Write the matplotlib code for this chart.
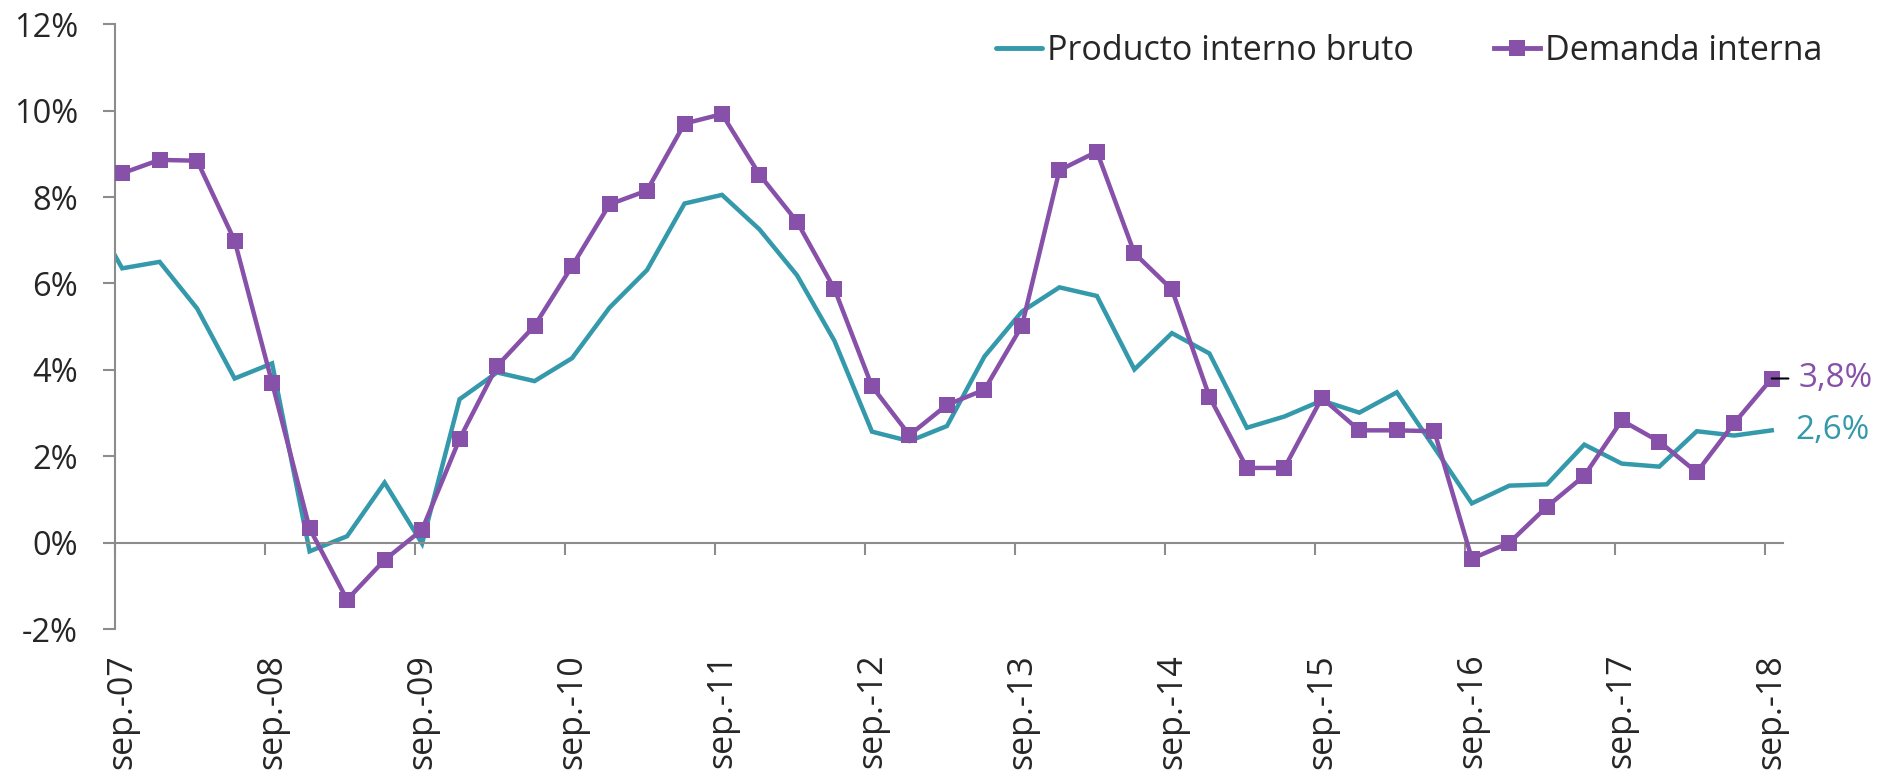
import matplotlib.pyplot as plt
import numpy as np
from matplotlib.ticker import FuncFormatter
from matplotlib.lines import Line2D

plt.rcParams['font.family'] = ['Open Sans', 'DejaVu Sans']

# Crecimiento anual (%) trimestral, jun-07 a sep-18
pib = [7.9,
       6.35, 6.50, 5.42, 3.80, 4.15, -0.20, 0.15, 1.39, -0.02, 3.32,
       3.94, 3.74, 4.27, 5.44, 6.31, 7.85, 8.05, 7.25, 6.19, 4.67,
       2.57, 2.35, 2.70, 4.31, 5.35, 5.91, 5.71, 4.01, 4.85, 4.38,
       2.66, 2.92, 3.29, 3.01, 3.48, 2.20, 0.91, 1.32, 1.35, 2.27,
       1.83, 1.76, 2.58, 2.48, 2.60]
demanda = [8.4,
           8.55, 8.86, 8.84, 6.99, 3.70, 0.33, -1.32, -0.40, 0.30, 2.40,
           4.09, 5.02, 6.40, 7.83, 8.15, 9.70, 9.92, 8.52, 7.43, 5.87,
           3.62, 2.49, 3.19, 3.54, 5.02, 8.62, 9.05, 6.70, 5.86, 3.38,
           1.73, 1.73, 3.35, 2.60, 2.60, 2.58, -0.37, 0.00, 0.83, 1.55,
           2.83, 2.34, 1.63, 2.77, 3.80]
etiquetas = ['sep.-07', 'sep.-08', 'sep.-09', 'sep.-10', 'sep.-11', 'sep.-12',
             'sep.-13', 'sep.-14', 'sep.-15', 'sep.-16', 'sep.-17', 'sep.-18']

COL_PIB = '#3399ab'
COL_DEM = '#8750a9'
GRIS = '#8c8c8c'
TEXTO = '#262626'

# trimestre 0 = sep-07
x = np.arange(len(pib)) - 1

fig = plt.figure(figsize=(18.95, 7.76), dpi=100)
ax = fig.add_axes([0.0607, 0.1893, 0.88, 0.7795])

ax.plot(x, pib, color=COL_PIB, lw=3.2, solid_joinstyle='miter', zorder=2)
ax.plot(x, demanda, color=COL_DEM, lw=3.2, marker='s', markersize=12,
        markeredgewidth=0, zorder=3)

ax.set_xlim(-0.19, 44.29)
ax.set_ylim(-2, 12)

# ejes
for s in ['top', 'right']:
    ax.spines[s].set_visible(False)
ax.spines['bottom'].set_position(('data', 0))
for s in ['left', 'bottom']:
    ax.spines[s].set_color(GRIS)
    ax.spines[s].set_linewidth(1.5)

ax.set_yticks(np.arange(-2, 13, 2))
ax.yaxis.set_major_formatter(FuncFormatter(lambda v, p: '%d%%' % v))
ax.tick_params(axis='y', direction='out', length=8.6, width=1.5, color=GRIS,
               pad=18, labelsize=23.5, labelcolor=TEXTO)

pos = np.arange(0, 45, 4)
ax.set_xticks(pos)
ax.set_xticklabels(etiquetas, rotation=90)
ax.set_xticks(pos - 0.19, minor=True)
ax.tick_params(axis='x', which='major', length=0, pad=80, labelsize=24.5,
               labelcolor=TEXTO)
ax.tick_params(axis='x', which='minor', direction='out', length=8.6,
               width=1.5, color=GRIS)

# valores del último trimestre
ax.annotate('3,8%', xy=(x[-1], demanda[-1]), xytext=(19, 0),
            textcoords='offset points', va='center', ha='left',
            fontsize=24, color=COL_DEM, annotation_clip=False,
            arrowprops=dict(arrowstyle='-', color='black', lw=1.5,
                            shrinkA=5, shrinkB=0))
ax.annotate('2,6%', xy=(x[-1], pib[-1]), xytext=(17, 0),
            textcoords='offset points', va='center', ha='left',
            fontsize=24, color=COL_PIB, annotation_clip=False)

handles = [Line2D([], [], color=COL_PIB, lw=3.5, solid_capstyle='round'),
           Line2D([], [], color=COL_DEM, lw=3.5, marker='s', markersize=12,
                  markeredgewidth=0)]
fig.legend(handles, ['Producto interno bruto', 'Demanda interna'],
           loc='center', bbox_to_anchor=(0.7435, 0.934), ncol=2,
           frameon=False, fontsize=24.5, labelcolor=TEXTO,
           handlelength=1.35, handletextpad=0.15, columnspacing=2.36)

plt.savefig('out.png', dpi=100)
plt.close()
